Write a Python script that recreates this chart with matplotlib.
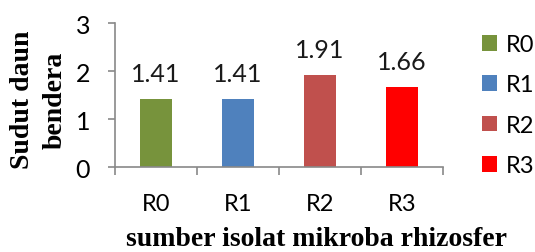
import matplotlib.pyplot as plt
import numpy as np

categories = ['R0', 'R1', 'R2', 'R3']
values = [1.41, 1.41, 1.91, 1.66]
value_labels = ['1.41', '1.41', '1.91', '1.66']
colors = ['#77933C', '#4F81BD', '#C0504D', '#FF0000']
yticks = [0, 1, 2, 3]

plt.rcParams['font.family'] = ['Lato', 'DejaVu Sans']
grey = '#898989'

fig = plt.figure(figsize=(5.35, 2.53), dpi=100)
ax = fig.add_axes([115/535, 1 - 168/253, (443 - 115)/535, (168 - 24)/253])

x = np.arange(len(categories))
bars = ax.bar(x, values, width=0.4, color=colors)
ax.bar_label(bars, labels=value_labels, padding=10, fontsize=18, color='#1a1a1a')

ax.set_xlim(-0.5, len(categories) - 0.5)
ax.set_ylim(0, 3)
ax.set_yticks(yticks)
ax.set_xticks(x)
ax.set_xticklabels(categories)
ax.set_xticks(np.arange(len(categories) + 1) - 0.5, minor=True)
ax.tick_params(axis='x', which='major', length=0, pad=19, labelsize=17)
ax.tick_params(axis='x', which='minor', length=6, direction='out', color=grey, width=1.2)
ax.tick_params(axis='y', length=5, direction='out', color=grey, width=1.2, pad=13, labelsize=18)

for s in ['top', 'right']:
    ax.spines[s].set_visible(False)
for s in ['left', 'bottom']:
    ax.spines[s].set_color(grey)
    ax.spines[s].set_linewidth(1.2)

fig.text(39/535, 1 - 100/253, 'Sudut daun\nbendera', rotation=90, ha='center', va='center',
         multialignment='center', family='Liberation Serif', fontweight='bold', fontsize=20,
         linespacing=1.4)
fig.text(316/535, 1 - 246/253, 'sumber isolat mikroba rhizosfer', ha='center', va='baseline',
         family='Liberation Serif', fontweight='bold', fontsize=20)

fig.legend(bars, categories, loc='upper left', bbox_to_anchor=(482/535, 1 - 35/253),
           frameon=False, fontsize=17, handlelength=0.65, handleheight=0.65,
           handletextpad=0.35, labelspacing=0.82, borderpad=0, borderaxespad=0)

fig.savefig('out.png', dpi=100)
